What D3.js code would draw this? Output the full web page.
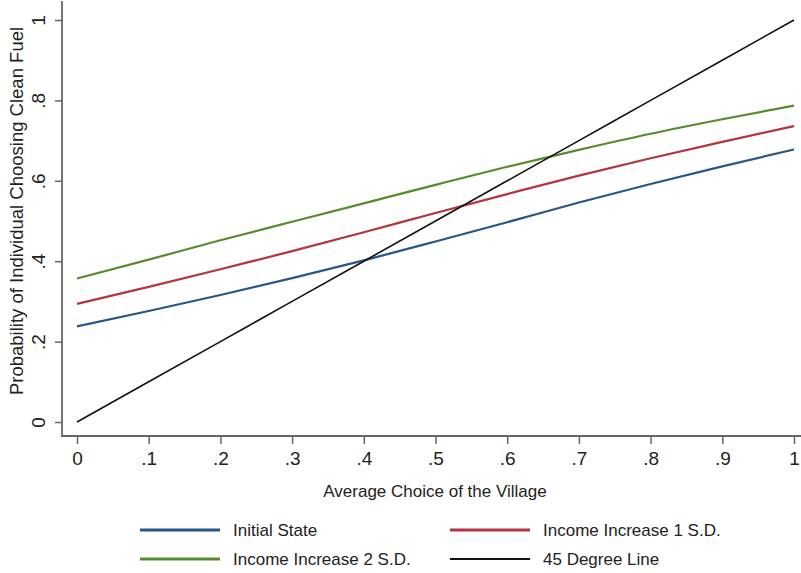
<!DOCTYPE html>
<html><head><meta charset="utf-8">
<script src="https://cdn.jsdelivr.net/npm/d3@7"></script>
<style>
html,body{margin:0;padding:0;background:#fff;}
svg{display:block;font-family:Arial,"Liberation Sans",sans-serif;}
</style></head>
<body><svg id="c" width="801" height="573"></svg>
<script>
const xValues = [0, 0.1, 0.2, 0.3, 0.4, 0.5, 0.6, 0.7, 0.8, 0.9, 1];
const initialState = [0.238, 0.276, 0.316, 0.358, 0.402, 0.449, 0.497, 0.546, 0.592, 0.636, 0.678];
const income1SD = [0.294, 0.336, 0.380, 0.425, 0.472, 0.520, 0.567, 0.613, 0.656, 0.697, 0.736];
const income2SD = [0.357, 0.404, 0.452, 0.498, 0.544, 0.590, 0.635, 0.677, 0.717, 0.753, 0.787];
const degree45 = [0, 0.1, 0.2, 0.3, 0.4, 0.5, 0.6, 0.7, 0.8, 0.9, 1];
const xTicks = [0, 0.1, 0.2, 0.3, 0.4, 0.5, 0.6, 0.7, 0.8, 0.9, 1];
const yTicks = [0, 0.2, 0.4, 0.6, 0.8, 1];
const seriesNames = ["Initial State", "Income Increase 1 S.D.", "Income Increase 2 S.D.", "45 Degree Line"];

const fmt = v => v === 0 ? "0" : v === 1 ? "1" : String(v).replace(/^0/, "");

const series = [
  {name: seriesNames[0], vals: initialState, color: "#27578a", w: 2.2},
  {name: seriesNames[1], vals: income1SD, color: "#b5343f", w: 2.2},
  {name: seriesNames[2], vals: income2SD, color: "#5a8a2e", w: 2.2},
  {name: seriesNames[3], vals: degree45, color: "#111", w: 1.6}
];

const svg = d3.select("#c");
const x = d3.scaleLinear().domain([0, 1]).range([77, 794]);
const y = d3.scaleLinear().domain([0, 1]).range([422, 20]);
const axisColor = "#666";

// axes lines
svg.append("line").attr("x1", 62).attr("x2", 62).attr("y1", 1).attr("y2", 436.5)
  .attr("stroke", axisColor).attr("stroke-width", 1.8);
svg.append("line").attr("x1", 61).attr("x2", 801).attr("y1", 436).attr("y2", 436)
  .attr("stroke", axisColor).attr("stroke-width", 1.8);

// x axis
const xAxis = d3.axisBottom(x).tickValues(xTicks).tickFormat(fmt).tickSize(8).tickPadding(8);
const gx = svg.append("g").attr("transform", "translate(0,436)").call(xAxis);
gx.select(".domain").remove();
gx.selectAll(".tick line").attr("stroke", axisColor).attr("stroke-width", 1.5);
gx.selectAll(".tick text").attr("fill", "#222").style("font-size", "19px").style("font-family", "Arial, 'Liberation Sans', sans-serif");

// y axis
const yAxis = d3.axisLeft(y).tickValues(yTicks).tickFormat(fmt).tickSize(7).tickPadding(0);
const gy = svg.append("g").attr("transform", "translate(62,0)").call(yAxis);
gy.select(".domain").remove();
gy.selectAll(".tick line").attr("stroke", axisColor).attr("stroke-width", 1.5);
gy.selectAll(".tick text").attr("fill", "#222").style("font-size", "19px")
  .style("font-family", "Arial, 'Liberation Sans', sans-serif")
  .attr("x", null).attr("dy", null)
  .attr("text-anchor", "middle").attr("dominant-baseline", "central")
  .attr("transform", "translate(-24,0) rotate(-90)");

// lines
const line = d3.line().x((d, i) => x(xValues[i])).y(d => y(d)).curve(d3.curveMonotoneX);
series.forEach(s => {
  svg.append("path").datum(s.vals).attr("d", line).attr("fill", "none")
    .attr("stroke", s.color).attr("stroke-width", s.w);
});

// titles
svg.append("text").attr("x", 435).attr("y", 491).attr("text-anchor", "middle")
  .attr("dominant-baseline", "central").style("font-size", "17px").attr("fill", "#222")
  .text("Average Choice of the Village");
svg.append("text").attr("transform", "translate(16,211) rotate(-90)").attr("text-anchor", "middle")
  .attr("dominant-baseline", "central").style("font-size", "18.5px").attr("fill", "#222")
  .text("Probability of Individual Choosing Clean Fuel");

// legend
const legPos = [[140, 530], [450, 530], [140, 559], [450, 559]];
series.forEach((s, i) => {
  const [lx, ly] = legPos[i];
  svg.append("line").attr("x1", lx).attr("x2", lx + 80).attr("y1", ly).attr("y2", ly)
    .attr("stroke", s.color).attr("stroke-width", s.w + 0.6);
  svg.append("text").attr("x", lx + 93).attr("y", ly).attr("dominant-baseline", "central")
    .style("font-size", "17px").attr("fill", "#222").text(s.name);
});
</script></body></html>
